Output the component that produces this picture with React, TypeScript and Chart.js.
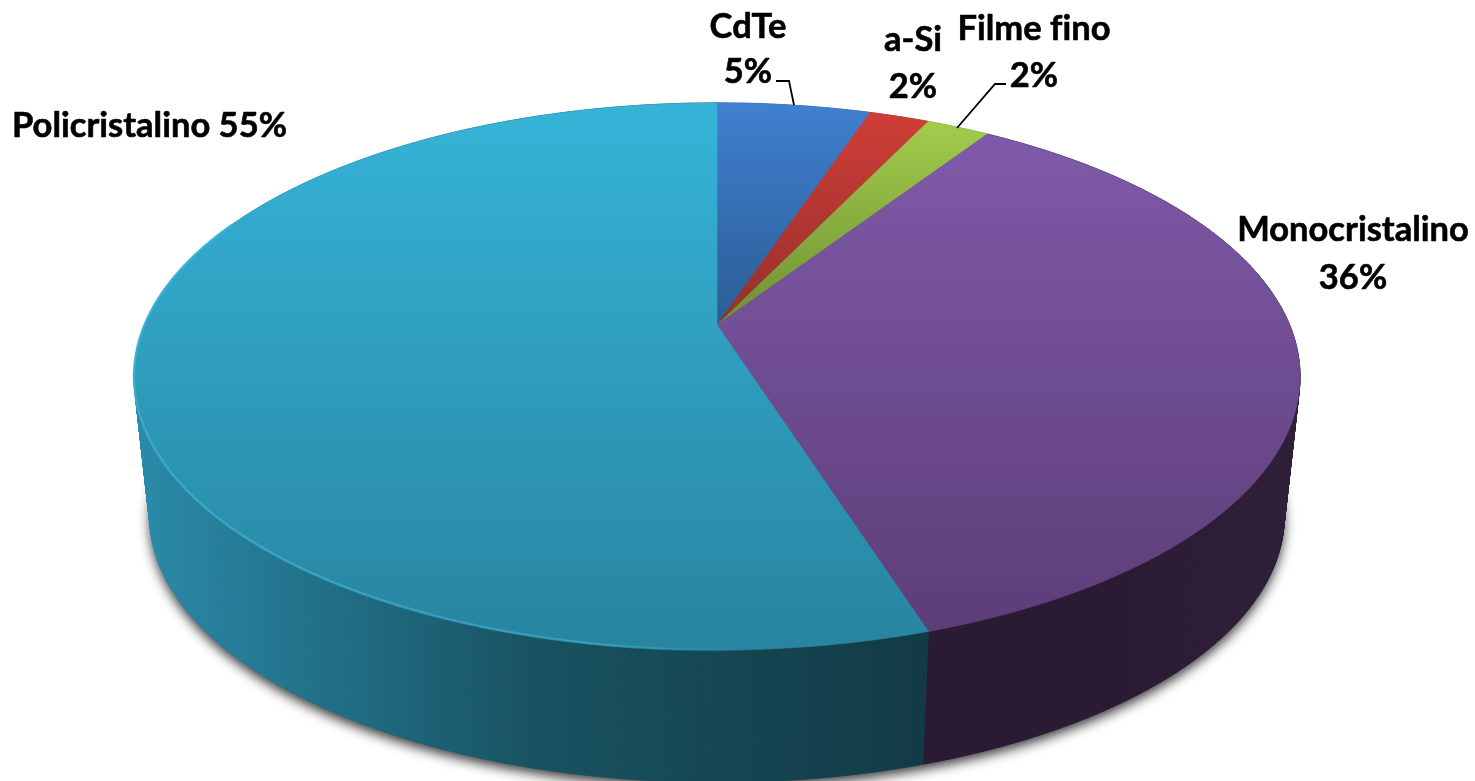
import React, { useEffect, useRef } from "react";
import { Chart, registerables } from "chart.js";

Chart.register(...registerables);

const categories = ["CdTe", "a-Si", "Filme fino", "Monocristalino", "Policristalino"];
const shares = [5.1, 2.0, 2.1, 35.9, 54.9];

const faceTop = ["#3F80D0", "#D03D37", "#A3CC4C", "#7F5AA9", "#35B4D8"];
const faceBottom = ["#2C5C94", "#93302B", "#6E8F33", "#5D3D78", "#2884A0"];
const sideStops: string[][] = [
  ["#2C5C94", "#2C5C94"],
  ["#93302B", "#93302B"],
  ["#6E8F33", "#6E8F33"],
  ["#2A1A33", "#2A1A33", "#2E2038"],
  ["#2A8CAA", "#216F87", "#185362", "#154652", "#123A46"],
];

// text table, positions in page pixels
const FONT = "bold 34.5px Lato, 'Open Sans', sans-serif";
const labelLines: { text: string; x: number; y: number; align: CanvasTextAlign }[] = [
  { text: "Policristalino 55%", x: 12, y: 126, align: "left" },
  { text: "Monocristalino", x: 1353, y: 230, align: "center" },
  { text: "36%", x: 1353, y: 278, align: "center" },
  { text: "CdTe", x: 748, y: 27, align: "center" },
  { text: "5%", x: 748, y: 72, align: "center" },
  { text: "a-Si", x: 913, y: 40, align: "center" },
  { text: "2%", x: 913, y: 87, align: "center" },
  { text: "Filme fino", x: 1034, y: 29, align: "center" },
  { text: "2%", x: 1034, y: 76, align: "center" },
];
const leaders: number[][][] = [
  [[776, 81], [789, 81], [794, 105]],
  [[1006, 84], [995, 84], [957, 128]],
];

// perspective of the disc, relative to the library's arc radius
const PERSP = 0.188;
const WIDE = 1.762;
const TALL = 0.812;
const SHRINK = 0.973;
const DROP = 150;

const pie3d = {
  id: "pie3d",
  beforeDatasetDraw(chart: any) {
    const ctx: CanvasRenderingContext2D = chart.ctx;
    const arcs = chart.getDatasetMeta(0).data as any[];
    const { x: ox, y: oy, outerRadius: R } = arcs[0];
    const top = (a: number) => {
      const u = Math.cos(a), v = Math.sin(a), w = 1 - PERSP * v;
      return [ox + (R * WIDE * u) / w, oy + (R * TALL * v) / w];
    };
    const low = (a: number) => {
      const [x, y] = top(a);
      return [ox + SHRINK * (x - ox), SHRINK * y + DROP];
    };
    const steps = (s: number, e: number) => {
      const n = Math.max(2, Math.ceil((e - s) / 0.006));
      return Array.from({ length: n + 1 }, (_, i) => s + ((e - s) * i) / n);
    };
    const T0 = -Math.PI / 2;

    // ground shadow
    ctx.save();
    ctx.shadowColor = "rgba(50,50,50,0.95)";
    ctx.shadowBlur = 12;
    ctx.shadowOffsetY = 5;
    ctx.fillStyle = "#555";
    ctx.beginPath();
    steps(T0, T0 + Math.PI * 2).forEach((a, i) => {
      const [x, y] = low(a);
      i ? ctx.lineTo(x, y) : ctx.moveTo(x, y);
    });
    ctx.closePath();
    ctx.fill();
    ctx.restore();

    // walls, as narrow quads so the silhouette is closed
    arcs.forEach((arc, i) => {
      const pts = steps(arc.startAngle, arc.endAngle);
      const xs = pts.flatMap((a) => [top(a)[0], low(a)[0]]);
      const g = ctx.createLinearGradient(Math.min(...xs), 0, Math.max(...xs), 0);
      const stops = sideStops[i];
      stops.forEach((c, j) => g.addColorStop(j / (stops.length - 1), c));
      ctx.fillStyle = g;
      ctx.strokeStyle = g;
      ctx.lineWidth = 0.8;
      for (let j = 0; j < pts.length - 1; j++) {
        const p = [top(pts[j]), top(pts[j + 1]), low(pts[j + 1]), low(pts[j])];
        ctx.beginPath();
        p.forEach(([x, y], k) => (k ? ctx.lineTo(x, y) : ctx.moveTo(x, y)));
        ctx.closePath();
        ctx.fill();
        ctx.stroke();
      }
    });

    // top faces
    arcs.forEach((arc, i) => {
      const pts = steps(arc.startAngle, arc.endAngle);
      const ys = pts.map((a) => top(a)[1]).concat(oy);
      const g = ctx.createLinearGradient(0, Math.min(...ys), 0, Math.max(...ys));
      g.addColorStop(0, faceTop[i]);
      g.addColorStop(1, faceBottom[i]);
      ctx.fillStyle = g;
      ctx.strokeStyle = g;
      ctx.lineWidth = 0.6;
      ctx.beginPath();
      ctx.moveTo(ox, oy);
      pts.forEach((a) => {
        const [x, y] = top(a);
        ctx.lineTo(x, y);
      });
      ctx.closePath();
      ctx.fill();
      ctx.stroke();
    });

    // soft rim light along the front edge of the largest slice, fading to the right
    const big = arcs[4];
    ctx.save();
    const rim = ctx.createLinearGradient(ox - R * WIDE, 0, ox + R * 0.15, 0);
    rim.addColorStop(0, "rgba(64,184,216,0.6)");
    rim.addColorStop(0.75, "rgba(64,184,216,0.55)");
    rim.addColorStop(1, "rgba(64,184,216,0)");
    ctx.strokeStyle = rim;
    ctx.lineWidth = 2.5;
    ctx.beginPath();
    steps(big.startAngle + 0.1, big.endAngle - 1.15).forEach((a, i) => {
      const [x, y] = top(a);
      i ? ctx.lineTo(x, y) : ctx.moveTo(x, y);
    });
    ctx.stroke();
    ctx.restore();
    return false;
  },
  afterDatasetsDraw(chart: any) {
    const ctx: CanvasRenderingContext2D = chart.ctx;
    ctx.save();
    ctx.strokeStyle = "#000";
    ctx.lineWidth = 1.8;
    leaders.forEach((line) => {
      ctx.beginPath();
      line.forEach(([x, y], i) => (i ? ctx.lineTo(x, y) : ctx.moveTo(x, y)));
      ctx.stroke();
    });
    ctx.fillStyle = "#000";
    ctx.font = FONT;
    (ctx as any).letterSpacing = "0.01px";
    ctx.textBaseline = "middle";
    ctx.lineWidth = 0.6;
    ctx.lineJoin = "round";
    labelLines.forEach((l) => {
      ctx.textAlign = l.align;
      ctx.fillText(l.text, l.x, l.y);
      ctx.strokeText(l.text, l.x, l.y);
    });
    ctx.restore();
  },
};

export default function App() {
  const ref = useRef<HTMLCanvasElement>(null);
  useEffect(() => {
    if (!ref.current) return;
    const chart = new Chart(ref.current, {
      type: "pie",
      data: {
        labels: categories,
        datasets: [{ data: shares, backgroundColor: faceTop, borderWidth: 0 }],
      },
      options: {
        animation: false,
        responsive: false,
        devicePixelRatio: 1,
        layout: { padding: { left: 0, right: 41, top: 0, bottom: 131 } },
        plugins: { legend: { display: false }, tooltip: { enabled: false } },
      },
      plugins: [pie3d],
    } as any);
    return () => chart.destroy();
  }, []);
  return (
    <canvas
      ref={ref}
      width={1475}
      height={781}
      style={{ position: "absolute", left: 0, top: 0, display: "block", width: 1475, height: 781, background: "#fff" }}
    />
  );
}
